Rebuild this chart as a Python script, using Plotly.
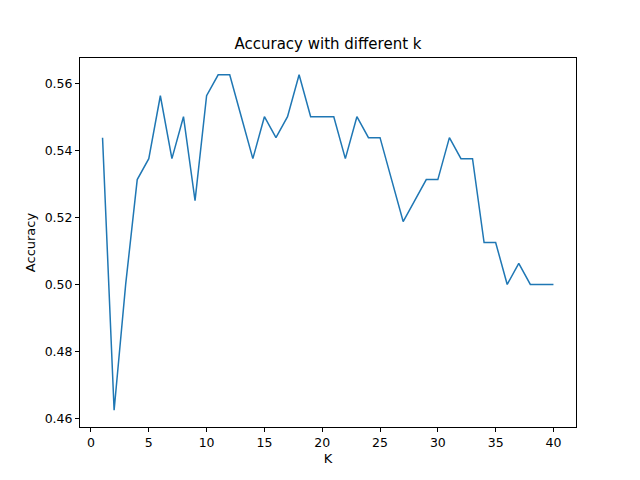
import plotly.graph_objects as go

k_values = list(range(1, 41))
accuracy = [0.54375, 0.4625, 0.5, 0.53125, 0.5375, 0.55625, 0.5375, 0.55, 0.525, 0.55625,
            0.5625, 0.5625, 0.55, 0.5375, 0.55, 0.54375, 0.55, 0.5625, 0.55, 0.55,
            0.55, 0.5375, 0.55, 0.54375, 0.54375, 0.53125, 0.51875, 0.525, 0.53125, 0.53125,
            0.54375, 0.5375, 0.5375, 0.5125, 0.5125, 0.5, 0.50625, 0.5, 0.5, 0.5]

fig = go.Figure(go.Scatter(x=k_values, y=accuracy, mode="lines",
                           line=dict(color="#1f77b4", width=1.5)))

axis_style = dict(showline=True, linecolor="black", linewidth=1, mirror=True,
                  ticks="outside", ticklen=4, tickcolor="black", showgrid=False,
                  zeroline=False, tickfont=dict(size=12.5, color="black"))

fig.update_layout(
    width=640, height=480,
    paper_bgcolor="white", plot_bgcolor="white",
    font=dict(family="DejaVu Sans", color="black"),
    title=dict(text="Accuracy with different k", x=0.5, xanchor="center",
               y=0.925, yanchor="middle", font=dict(size=15)),
    margin=dict(l=72, r=72, t=50, b=61),
    showlegend=False,
)
fig.update_xaxes(title=dict(text="K", font=dict(size=13), standoff=4),
                 range=[-0.95, 41.95], tickvals=[0, 5, 10, 15, 20, 25, 30, 35, 40], **axis_style)
fig.update_yaxes(title=dict(text="Accuracy", font=dict(size=13), standoff=6),
                 range=[0.4575, 0.5675], tickvals=[0.46, 0.48, 0.50, 0.52, 0.54, 0.56],
                 tickformat=".2f", **axis_style)

fig.write_html("out.html")
